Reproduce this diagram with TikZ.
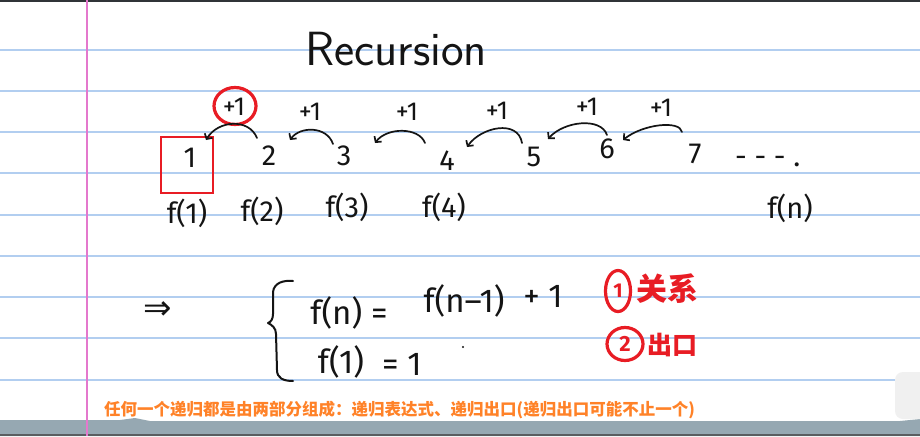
\documentclass[tikz,border=0pt]{standalone}
\usepackage{fontspec}
\newfontfamily\cjk{Noto Sans CJK SC}
\newfontfamily\handfont{Fira Sans}
\newfontfamily\symbfont{DejaVu Sans}
\usetikzlibrary{arrows.meta,shapes.geometric}
\definecolor{ruleblue}{RGB}{178,206,240}
\definecolor{marginpink}{RGB}{228,120,205}
\definecolor{penred}{RGB}{232,28,36}
\definecolor{noteorange}{RGB}{255,130,40}
\definecolor{bandgray}{RGB}{150,168,178}
\definecolor{topbar}{RGB}{48,52,56}
\definecolor{ink}{RGB}{20,20,20}
\tikzset{
  rule/.style={draw=ruleblue, line width=1.6pt},
  title/.style={font=\sffamily\fontsize{48}{54}\selectfont, text=ink, inner sep=0pt},
  digit/.style={font=\handfont\fontsize{29}{35}\selectfont, text=ink, inner sep=0pt},
  plus/.style={font=\handfont\fontsize{26}{30}\selectfont, text=ink, inner sep=0pt},
  fname/.style={font=\handfont\fontsize{29}{35}\selectfont, text=ink, inner sep=0pt},
  formula/.style={font=\handfont\fontsize{33}{39}\selectfont, text=ink, inner sep=0pt},
  arr/.style={draw=ink, line width=1.7pt, line cap=round, -{Straight Barb[length=4pt,width=9pt]}},
  stroke/.style={draw=ink, line width=2pt, line cap=round, line join=round},
  redring/.style={ellipse, draw=penred, line width=3.2pt, text=penred, inner sep=0pt},
  redbox/.style={draw=penred, line width=2.6pt},
  rednote/.style={text=penred, inner sep=0pt},
  orangenote/.style={font=\cjk\bfseries\fontsize{16.5}{20}\selectfont, text=noteorange, inner sep=0pt}
}
\begin{document}
\begin{tikzpicture}[x=1pt,y=-1pt]
\useasboundingbox (0,0) rectangle (920,436);
\fill[white] (0,0) rectangle (920,436);
% ruled paper
\foreach \yy in {50,91,132,173,215,256,297,338,380} {
  \draw[rule] (0,\yy) -- (920,\yy);
}
\fill[topbar] (0,0) rectangle (920,2.5);
\fill[bandgray] (0,420) -- (120,420) -- (135,418) -- (150,421) -- (900,421) -- (920,419) -- (920,436) -- (0,436) -- cycle;
\fill[topbar!80] (0,433.5) rectangle (920,436);
\fill[gray!12] (895,372) [rounded corners=8pt] -- (930,372) -- (930,419) -- (895,419) -- cycle;
\draw[marginpink, line width=1.4pt] (87,0) -- (87,436);

% title
\node[title, anchor=base] (title) at (396,66) {Recursion};

% chain of values
\node[digit] (n1) at (190,158) {1};
\node[digit] (n2) at (269,156) {2};
\node[digit] (n3) at (344,156) {3};
\node[digit] (n4) at (447,161) {4};
\node[digit] (n5) at (534,157) {5};
\node[digit] (n6) at (607,149) {6};
\node[digit] (n7) at (695,154) {7};
\node[digit, anchor=base west] (dots) at (735,166) {- - - .};
\draw[redbox] (161,137) rectangle (213,193);

% +1 labels
\node[redring, minimum width=42pt, minimum height=37pt] (p1) at (235,106) {};
\node[plus] (p1t) at (234,107) {+1};
\node[plus] (p2) at (310,112) {+1};
\node[plus] (p3) at (407,112) {+1};
\node[plus] (p4) at (497,111) {+1};
\node[plus] (p5) at (587,107) {+1};
\node[plus] (p6) at (661,108) {+1};

% arrows
\draw[arr] ([shift={(-12,-18)}]n2.center) .. controls +(-8,-20) and +(12,-20) .. ([shift={(16,-18)}]n1.center);
\draw[arr] ([shift={(-11,-12)}]n3.center) .. controls +(-6,-18) and +(10,-14) .. ([shift={(21,-16)}]n2.center);
\draw[arr] ([shift={(-22,-18)}]n4.center) .. controls +(-6,-16) and +(12,-16) .. ([shift={(31,-13)}]n3.center);
\draw[arr] ([shift={(-12,-14)}]n5.center) .. controls +(-4,-24) and +(14,-20) .. ([shift={(20,-14)}]n4.center);
\draw[arr] ([shift={(0,-14)}]n6.center) .. controls +(-6,-18) and +(16,-18) .. ([shift={(14,-18)}]n5.center);
\draw[arr] ([shift={(-13,-22)}]n7.center) .. controls +(-2,-12) and +(20,-16) .. ([shift={(16,-9)}]n6.center);

% f labels
\node[fname] (f1) at (187,213) {f(1)};
\node[fname] (f2) at (262,211) {f(2)};
\node[fname] (f3) at (347,207) {f(3)};
\node[fname] (f4) at (444,207) {f(4)};
\node[fname] (fn) at (790,208) {f(n)};

% formula
\node[font=\symbfont\fontsize{34}{40}\selectfont, text=ink, inner sep=0pt] (impl) at (158,311) {⇒};
\draw[stroke] (293,281) .. controls (283,280) and (274,283) .. (273,292) -- (273,314)
  .. controls (273,319) and (271,322) .. (268,323)
  .. controls (272,325) and (276,328) .. (276,334) -- (277,370)
  .. controls (277,378) and (283,381) .. (293,381);
\node[formula] (lhs) at (349,313) {f(n) =};
\node[formula] (rhs) at (464,301) {f(n\textendash1)};
\node[formula] (rhsb) at (543,296) {+ 1};
\node[formula] (base) at (341,362) {f(1)};
\node[formula] (baseb) at (402,364) {= 1};
\fill[ink] (463,347) circle (1.1pt);

% red notes
\node[redring, minimum width=25pt, minimum height=41pt, font=\handfont\bfseries\fontsize{20}{24}\selectfont] (c1) at (618,291) {1};
\node[rednote, font=\cjk\bfseries\fontsize{31}{36}\selectfont] (rel) at (667,289) {关系};
\node[redring, minimum width=36pt, minimum height=33pt, font=\handfont\bfseries\fontsize{22}{26}\selectfont] (c2) at (625,344) {2};
\node[rednote, font=\cjk\bfseries\fontsize{25}{30}\selectfont] (exit) at (672,345) {出口};

% bottom caption
\node[orangenote, anchor=west] (cap) at (104,410) {任何一个递归都是由两部分组成：递归表达式、递归出口(递归出口可能不止一个)};
\end{tikzpicture}
\end{document}
